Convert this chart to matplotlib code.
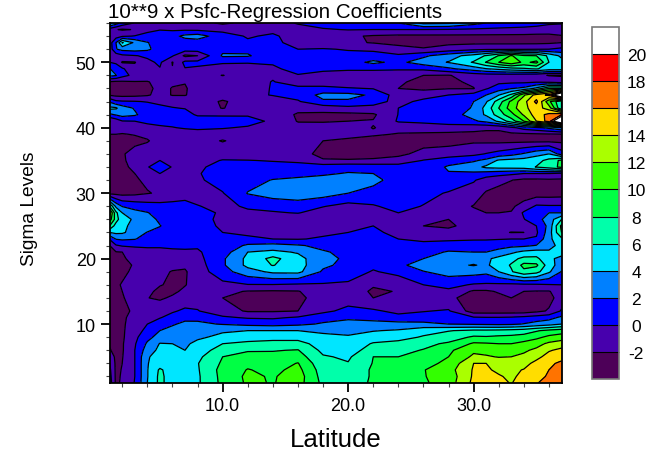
import numpy as np
from matplotlib import pyplot as plt
from matplotlib.ticker import MultipleLocator, FormatStrFormatter

plt.rcParams['font.family'] = ['Liberation Sans', 'DejaVu Sans']
plt.rcParams['axes.unicode_minus'] = False

# Values
latitudes = [1, 1.5, 2, 3, 4, 5, 6, 7, 8, 10, 12, 14, 16, 18, 20, 22, 24, 26, 28,
             30, 31, 32, 33, 34, 35, 36, 37]
sigma_levels = [1, 2, 3, 4, 5, 6, 7, 8, 9, 10, 11, 12, 14, 15, 16, 18, 19, 20, 21, 22,
                23, 24, 25, 26, 27, 28, 30, 32, 33, 34, 35, 36, 38, 39, 40, 41, 42, 43,
                44, 45, 46, 47, 48, 49, 50, 51, 52, 53, 54, 55, 56]
contour_levels = [-2, 0, 2, 4, 6, 8, 10, 12, 14, 16, 18, 20]

# below -2 first, above 20 last
band_colors = ['#4d0058', '#4700ad', '#0000ff', '#0080ff', '#00e6ff', '#00ffaa',
               '#00ff44', '#33ff00', '#aaff00', '#ffdd00', '#ff7300', '#ff0000', '#ffffff']

# one row per sigma level, one column per latitude
coefficients = [
    [1, -2.4, -1.7, 0.1, 4, 6.5, 5, 5.2, 5.7, 8.5, 10.3, 9.9, 10.8, 7.5, 7, 8.3, 8.8, 9.7, 11, 14.5, 15, 14.5, 13.9, 15, 15.9, 16.6, 17],
    [0.7, -2.4, -1.8, 0, 3.9, 6.5, 5, 5.2, 5.7, 8.6, 10.4, 9.8, 11, 7.2, 7, 8.2, 8.7, 9.9, 10.8, 14.3, 14.6, 14.2, 13.6, 14.6, 15.5, 16.2, 16.5],
    [0.4, -2.4, -1.9, 0, 3.9, 6.3, 5, 5, 5.8, 8.7, 10.1, 9.5, 10.6, 7, 7, 8.2, 8.6, 9.9, 11.2, 14.2, 14.3, 13.6, 13.6, 14.1, 14.8, 16, 16.4],
    [0, -2.4, -2, 0, 3.9, 5, 4.8, 4.8, 5.9, 8.3, 9.5, 9, 10.1, 6.5, 6.1, 8.1, 8.4, 9.3, 10.5, 14, 14, 13.2, 13, 13.3, 14.6, 15.7, 16.3],
    [-0.9, -2.4, -2.1, 0, 3.8, 4.8, 4.6, 4.5, 5.5, 8, 8.8, 8.5, 8.9, 6.2, 5.7, 8, 8, 8.8, 10, 12.4, 12.2, 11.9, 12, 12.4, 13.4, 14.8, 15.5],
    [-1.9, -2.4, -2.2, 0, 3, 4.5, 4.3, 4, 5, 6.9, 7.8, 7.9, 8.1, 5.5, 5, 7, 7.5, 8.1, 9.6, 11.6, 11.4, 11.2, 11.2, 11.7, 12.4, 13.8, 14.5],
    [-2.1, -2.4, -2.2, -0.2, 2.3, 4.1, 4, 3.6, 4.6, 6, 6.5, 6.8, 6.8, 5, 4.6, 6.2, 6.6, 7.5, 8.3, 10.3, 10.2, 10, 10, 10.6, 11.3, 12.4, 13],
    [-2.2, -2.4, -2.3, -0.5, 1.4, 2.8, 3, 2.9, 3.6, 4.6, 5, 5.2, 5.2, 4.4, 4.2, 4.9, 5.3, 6.2, 7, 8.3, 8.2, 8.4, 8.5, 8.8, 9.5, 10.5, 11],
    [-2.3, -2.4, -2.3, -0.8, 0.5, 2, 2.6, 2.7, 3, 3.7, 4, 4, 4, 3.7, 3.5, 3.9, 4.2, 5.3, 5.9, 6.4, 6.4, 6.5, 6.7, 7, 7.8, 8.5, 9],
    [-2.3, -2.4, -2.3, -1.1, 0, 0.9, 1.8, 2.4, 2.3, 1.9, 1.5, 1.3, 1.6, 2.2, 2.6, 2.7, 2.7, 2.5, 2, 1.8, 1.7, 1.6, 1.7, 2.1, 2.7, 3.2, 4],
    [-2.3, -2.4, -2.3, -1.4, -0.6, -0.1, 0.6, 1.5, 1.6, 0.3, -0.2, -0.3, 0.2, 1.3, 1.7, 1.3, 0.6, 0.8, 1, 0.2, 0.1, 0.1, 0.2, 0.5, 0.9, 1.3, 2.4],
    [-2.3, -2.4, -2.3, -1.8, -0.9, -0.6, -0.2, 0.3, 0.1, -1.2, -2.2, -2.2, -2, -0.5, 0.6, 0.3, -0.5, -0.1, 0.2, -3, -3, -3, -3, -3, -2.5, -1.8, 0.2],
    [-2.3, -2.4, -2.1, -1.5, -1.95, -2.3, -1.7, -1, -0.8, -2, -2.5, -2.5, -2.4, -1.2, -1, -2, -1.8, -1.2, -1.6, -2.8, -2.8, -2.5, -2, -2.7, -2.8, -2.6, -1.1],
    [-2.3, -2.3, -2, -1.4, -1.6, -2.4, -2.4, -1.6, -1, -1.6, -2.1, -2.2, -2.1, -0.9, -0.9, -2.3, -1.9, -0.9, -0.4, -2.3, -2.3, -1.8, -1.5, -2, -2.1, -2.1, -1.2],
    [-2.3, -2.2, -1.9, -1.4, -1.5, -1.9, -2.3, -2.1, -1.2, -0.5, -0.1, -0.1, -0.3, -0.2, -0.4, -1.8, -1.6, 0, 0.6, -0.2, -0.3, -0.4, -0.5, -0.4, -0.3, -0.1, 0],
    [-2.3, -2.4, -2.3, -1.7, -1.5, -1.6, -2.1, -2.2, -1, 1.2, 3.2, 4.4, 4.5, 1.7, 1.2, -0.2, 0.7, 1.9, 2.8, 2.8, 2.5, 4, 5.8, 7.5, 6.7, 4.3, 1.9],
    [-2.3, -2.4, -2.3, -1.9, -1.4, -1.3, -1.5, -1.7, -0.9, 1.7, 4.5, 6.1, 4.8, 2.4, 1.4, 0.5, 1.5, 3, 3.6, 4.1, 3.7, 4.9, 6.2, 8.6, 8.4, 4.9, 3],
    [-2.3, -2.4, -2.3, -1.3, -1.1, -1, -1, -1, -0.6, 1.7, 4.5, 6.6, 4.7, 2.5, 1.7, 1.1, 1.6, 2, 3.1, 3.3, 3.6, 4.6, 5.4, 6.5, 6.5, 4.3, 3.6],
    [-2.2, -2.1, -2, -1, -0.8, -0.4, -0.3, -0.3, -0.2, 1, 4, 4.5, 3.8, 2.2, 1.5, 1.1, 1, 1.2, 2.2, 2, 2, 2.6, 3.6, 4.5, 4.8, 4.3, 4.6],
    [-2, -0.2, 0.2, 0.3, 0.4, 0.2, 0.3, 0.4, 0.2, 0.8, 2.3, 2.7, 2.2, 1.5, 0.8, 0.5, 0.3, 0.6, 0.8, 1, 1.1, 1.3, 1.5, 1.6, 2.1, 3.3, 4.7],
    [0.2, 2.1, 2.3, 2.1, 1.3, 1, 0.9, 0.9, 1, 0.3, 0.6, 0, -0.1, 0.2, 0.4, 0.8, 0, -0.4, -0.3, -0.2, -0.2, -0.1, 0, 0, 0.2, 3.5, 5.5],
    [4, 4.4, 4.3, 3.1, 1.9, 1.2, 1, 1, 1, 0, -0.6, -0.7, -0.6, -0.3, 0, 0.5, -0.7, -1.3, -1.4, -1.4, -1.1, -1.7, -2.05, -2, -0.3, 3, 8],
    [8, 5, 4.3, 3.6, 3.2, 2.1, 0.9, 0.8, 0.8, -0.3, -1.2, -1.3, -1.2, -0.6, -0.3, 0, -1.3, -2, -2.3, -1.3, -1.2, -1.2, -1.2, -1.1, 0, 2.6, 8.5],
    [11, 7, 4.5, 3.8, 2.9, 1.6, 1, 1, 0.8, -0.5, -1.4, -1.6, -1.5, -1, -1, -0.8, -1.4, -1.9, -2, -1.3, -1.1, -1.1, -0.7, -0.1, 1.3, 2.8, 6],
    [12.5, 6.5, 4, 2.6, 2.1, 1.2, 1, 1, 0.5, -0.2, -0.4, -0.2, 0.1, -0.9, -1, -0.5, 0, -0.6, -1.2, -1.6, -2, -2, -1.9, 0.3, 0.9, 2, 2],
    [8, 3.5, 1.9, 1.3, 0.9, 0.7, 0.8, 0.9, 0.1, -0.6, 0.3, 0.7, 0.9, 0.1, -0.7, -0.2, 0.7, -0.1, -1, -2.1, -2.4, -2.4, -2.3, -1.3, 0.3, 0.2, 0.2],
    [-2.5, -2.6, -2.7, -2.5, -2.1, -1.8, -1.5, -1.1, -0.9, -0.1, 2.1, 2.9, 3.3, 2.9, 2, 1.5, 0.8, 0.7, -0.2, -1, -2.2, -2.7, -2.9, -3, -3, -3, -2.9],
    [-2.4, -2.5, -2.4, -2.2, -1.7, -1, -1.3, -1.3, -0.3, 0.8, 1.2, 2.1, 2.4, 2.5, 2.5, 2.4, 1.4, 1.3, 1.5, 0.2, -0.9, -1.4, -1.95, -2.4, -2.4, -2.3, -2.3],
    [-2.3, -2.4, -2.3, -2, -0.9, 0, -0.7, -1.2, -0.1, 0.6, 0.8, 1.1, 1.4, 1.8, 2.1, 2, 1.2, 1.1, 1.9, 1.6, 1.1, 0.7, 0.4, 0, 0, 0, -0.5],
    [-2.3, -2.4, -2.3, -1.7, -0.1, 0.8, -0.1, -1, -0.2, 0.4, 0.5, 0.6, 0.8, 1.2, 1.5, 1.3, 1.1, 1, 2.2, 3.3, 4.4, 4.7, 4.8, 5, 6.1, 7, 8.5],
    [-2.3, -2.4, -2.2, -1.5, -1.3, 0, -1, -0.9, -0.7, 0.1, 0.05, -0.1, -0.4, -1.9, -1.9, -1.8, -1.5, 0.1, 1.3, 1.7, 2.5, 4.3, 4.6, 4.8, 5.3, 6.6, 8.5],
    [-2.3, -2.4, -2.2, -1.3, -1.3, -1.2, -1.1, -1.1, -1, -0.9, -1, -1.1, -1.6, -2.3, -2.5, -2.5, -2.3, -1.6, -1.3, -0.5, 0.1, 0.7, 1.3, 2.2, 3.3, 4, 1],
    [-2.05, -2.5, -2.6, -2.5, -2.1, -1.5, -1.4, -1.4, -1.3, -2.1, -1.3, -1.3, -1.5, -2, -2.3, -2.6, -2.5, -2.5, -2.5, -2.3, -2.4, -2.5, -2.5, -2.5, -2.5, -2.5, -2.5],
    [-2, -2, -2.1, -1.9, -1.7, -1.3, -1.2, -1.1, -1, -1.3, -1.1, -1.2, -1.3, -1.3, -1.5, -1.8, -2.1, -2.3, -2.4, -2.4, -2.5, -2.5, -2.4, -2.4, -2.3, -2.2, -2.1],
    [-1.6, -1.3, -1.2, -0.9, -0.3, -0.1, -0.1, 0.2, 0.4, 0.2, -0.3, -1, -1.4, -1.5, -1.4, -2.05, -1.5, -1, -1, -1.4, -1.6, -1.6, -0.5, 0.8, 1.5, 2.5, 4],
    [-2.1, -1.2, -0.1, 0, 0.2, 0.2, 0.7, 1, 1.3, 1.1, 1, -0.5, -2.1, -2.1, -2, -1.9, 0.2, 0.4, 1, 1.7, 2.5, 4.4, 7, 10, 14, 17, 26],
    [1.6, 2.2, 2.8, 2.3, 1, 0.8, 1, 0.8, -0.3, -0.3, -0.3, -1, -2.2, -2.4, -2.5, -2.3, 0.05, 0.7, 1, 2.8, 4.3, 7, 9.3, 12.3, 15, 16.6, 18],
    [4.5, 4.3, 3, 1.8, 0.9, 0.4, 0.1, -0.1, -0.8, -2.1, -0.9, -0.8, -1.5, -1.2, -0.6, -0.4, 0, 0.6, 0.7, 2.2, 4.7, 8, 11, 13.5, 15, 13, 6],
    [1.7, 0.4, 0.2, 0.1, -0.1, -0.4, -0.7, -0.8, -1.1, -2.2, -1.2, -1, -0.2, 1.7, 1.7, 0.5, -0.4, 0.3, 0.8, 2, 3.8, 7, 10.5, 13.3, 16.5, 10.5, 6],
    [-2.2, -2.5, -2.6, -2.5, -2.2, -1.4, -2.1, -2.1, -1.3, -1.2, -0.5, 0.1, 0.7, 2.6, 2.6, 1.7, -1, -0.5, 0, 0.8, 2, 3.9, 6.5, 11.7, 14.8, 16.5, 26],
    [-2.4, -2.6, -2.6, -2.6, -2.5, -1.4, -2.1, -2.2, -1.1, -1.2, -1.9, 0.3, 0.5, 0.6, 0.2, -0.1, -2, -2.5, -2.1, -2.1, -0.2, 1, 1.9, 2.5, 4.5, 8, 8],
    [-2.2, -2.4, -2.3, -2.1, -2.1, -1.5, -1.7, -1.9, -1, -1.2, -1, 0.1, -1, -1.2, -1.5, -1.4, -1.8, -2.4, -2.6, -1.5, -0.5, -0.4, -0.4, -0.4, -0.2, -0.5, -1],
    [2.6, 2.1, 0.7, -0.6, -1, -1.1, -1.2, -1.4, -1.2, -2.05, -1.2, -0.3, -0.1, -0.8, -1, -1, -1, -2, -2.1, -1.2, -1, -1, -1.1, -1.3, -1.5, -2.1, -2.2],
    [2.1, 1, 0.3, -1.5, -1.1, -0.1, -1.9, -0.1, -0.3, -0.4, -0.3, -0.3, 0.6, 0.5, 0.3, 0.3, 0.2, 0.4, 1.6, 3, 3.9, 4.5, 5.2, 5.7, 6.2, 5, 5],
    [0, -0.3, -2.2, -2.1, -0.4, 0.3, -2.1, 0.5, 0.5, 0.1, 0.05, 0.2, 1.1, 1.4, 1.2, 2.4, 1.5, 3, 4.1, 6.2, 8.1, 10, 11.5, 9.5, 10.5, 6, 4.9],
    [-1.3, -1.1, -0.4, -0.1, 0.3, 0.8, 0.2, -2.4, -2, 2.3, 2.2, 0.8, 0.9, 0.9, 0.4, 0.8, 0.4, 1.6, 3.2, 4.8, 6.2, 8.1, 10.2, 8.3, 8, 5.5, 3.5],
    [-1.2, 1.9, 2.6, 2.8, 2.4, 1.1, 0.9, 1, 1, 1.4, 1.5, 0.8, 0, 0.1, -0.1, -0.4, -1.6, -1.9, -1.2, -0.5, -0.3, -0.3, -0.3, -0.2, -0.1, 0, 0.5],
    [-1, 2, 6.2, 3.6, 2.1, 1.1, 1, 1, 1, 0.9, 0.3, 0.6, -0.9, -1, -1.7, -2.1, -2.3, -2.4, -2.4, -2.4, -2.4, -2.4, -2.4, -2.4, -2.4, -2.3, -2],
    [-2.1, -0.9, -0.3, 0.1, 0.6, 1.1, 1.4, 2.5, 2.9, 0.9, -0.2, 0.3, -0.9, -1.4, -1.7, -2.2, -2.4, -2.4, -2.4, -2.4, -2.4, -2.4, -2.4, -2.4, -2.4, -2.3, -2.1],
    [-1, -1.9, -2.2, -1.9, -0.5, -0.1, -0.3, -0.3, -0.4, -0.6, -0.4, -0.5, -0.9, -0.2, 0.1, 0, 0, 0, -0.1, -0.3, -0.4, -0.5, -0.6, -0.7, -1, -1.3, -1.2],
    [4.5, 3, 1.2, -0.1, -0.5, -1, -1.1, -1.2, -1.4, -2.3, -1.6, -1, 0.2, 0.9, 1, 1.3, 2, 4.5, 4.3, 2.7, 2, 1.6, 1.4, 1.2, 1, 0.4, 0.2],
]

W, H = 646, 452


def px_axes(left, top, right, bottom):
    """Make an axes from pixel edges of the 646x452 image."""
    return fig.add_axes([left / W, 1 - bottom / H, (right - left) / W, (bottom - top) / H])


fig = plt.figure(figsize=(W / 100, H / 100), dpi=100)
ax = px_axes(109.7, 24, 561.5, 384)

cf = ax.contourf(latitudes, sigma_levels, coefficients, levels=contour_levels,
                 colors=band_colors[1:-1], extend='both')
cf.cmap.set_under(band_colors[0])
cf.cmap.set_over(band_colors[-1])
cf.changed()
ax.contour(latitudes, sigma_levels, coefficients, levels=contour_levels,
           colors='black', linewidths=0.9, linestyles='solid')

ax.set_xlim(1, 37)
ax.set_ylim(1, 56)
ax.xaxis.set_major_locator(MultipleLocator(10))
ax.xaxis.set_minor_locator(MultipleLocator(2))
ax.yaxis.set_major_locator(MultipleLocator(10))
ax.yaxis.set_minor_locator(MultipleLocator(2))
ax.xaxis.set_major_formatter(FormatStrFormatter('%.1f'))
ax.tick_params(which='major', length=6.5, width=1.3, labelsize=13, pad=3.5)
ax.tick_params(which='minor', length=3.2, width=0.8, color='#444444')
for spine in ax.spines.values():
    spine.set_linewidth(1.3)

fig.text(336 / W, 1 - 440 / H, 'Latitude', fontsize=18.5, ha='center', va='center')
fig.text(29 / W, 1 - 209 / H, 'Sigma Levels', fontsize=13.8, rotation=90, ha='center', va='center')
fig.text(108 / W, 1 - 17.5 / H, '10**9 x Psfc-Regression Coefficients', fontsize=14.8, ha='left', va='baseline')

# colour bar: 13 equal boxes, the two end ones are the extensions
cax = px_axes(592, 28, 618.5, 380)
cbar = fig.colorbar(cf, cax=cax, ticks=contour_levels, extendfrac=1 / 11,
                    extendrect=True, drawedges=True, spacing='uniform')
cbar.outline.set_edgecolor('#777777')
cbar.outline.set_linewidth(1.2)
cbar.dividers.set_color('black')
cbar.dividers.set_linewidth(0.8)
cbar.ax.tick_params(length=0, labelsize=12.5, pad=12.8)
for label in cbar.ax.get_yticklabels():
    label.set_horizontalalignment('center')

fig.savefig('out.png', dpi=100)
